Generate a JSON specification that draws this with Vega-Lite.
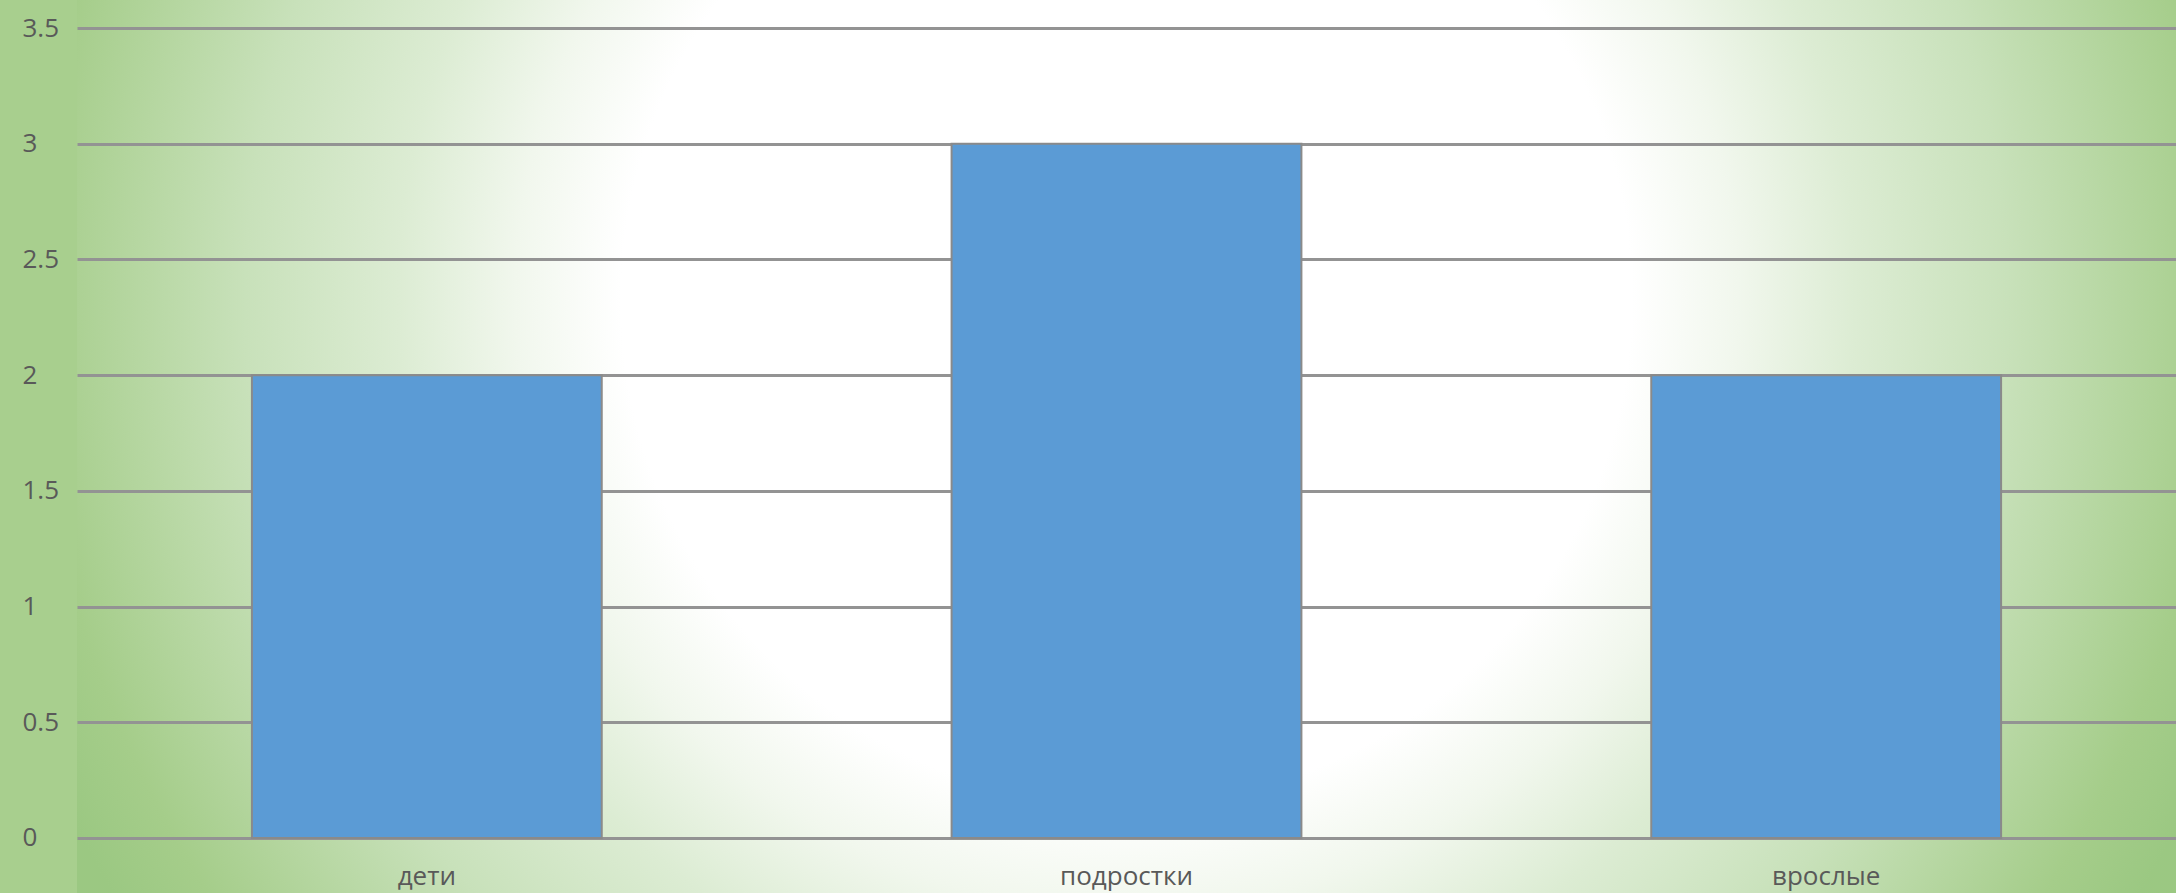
{
  "$schema": "https://vega.github.io/schema/vega-lite/v6.json",
  "width": 2099,
  "height": 893,
  "autosize": {"type": "none"},
  "padding": {"left": 77, "top": 0, "right": 0, "bottom": 0},
  "background": "#a8cf8e",
  "view": {
    "stroke": null,
    "fill": {
      "gradient": "radial",
      "x1": 0.5, "y1": 0.43, "r1": 0,
      "x2": 0.5, "y2": 0.43, "r2": 0.56,
      "stops": [
        {"offset": 0, "color": "#ffffff"},
        {"offset": 0.43, "color": "#ffffff"},
        {"offset": 0.52, "color": "#f1f7ed"},
        {"offset": 0.62, "color": "#dcecd3"},
        {"offset": 0.75, "color": "#c8e1ba"},
        {"offset": 0.93, "color": "#a5cd8a"},
        {"offset": 1, "color": "#9bc882"}
      ]
    }
  },
  "data": {
    "values": [
      {"group": "дети", "value": 2},
      {"group": "подростки", "value": 3},
      {"group": "врослые", "value": 2}
    ]
  },
  "mark": {"type": "bar", "fill": "#5b9bd5", "stroke": "#8a8a8a", "strokeWidth": 2},
  "encoding": {
    "x": {
      "field": "group",
      "type": "nominal",
      "sort": null,
      "scale": {"paddingInner": 0.5, "paddingOuter": 0.25},
      "axis": {
        "title": null,
        "orient": "bottom",
        "offset": -55,
        "domain": false,
        "ticks": false,
        "tickSize": 0,
        "grid": false,
        "labelAngle": 0,
        "labelPadding": 25,
        "labelFont": "Open Sans",
        "labelFontSize": 26,
        "labelColor": "#595959"
      }
    },
    "y": {
      "field": "value",
      "type": "quantitative",
      "scale": {"domain": [-0.2377, 3.621], "nice": false, "zero": false},
      "axis": {
        "title": null,
        "values": [0, 0.5, 1, 1.5, 2, 2.5, 3, 3.5],
        "format": ".1~f",
        "domain": false,
        "ticks": false,
        "tickSize": 0,
        "labelAlign": "left",
        "labelBaseline": "middle",
        "labelPadding": 55,
        "labelFont": "Open Sans",
        "labelFontSize": 26,
        "labelColor": "#595959",
        "grid": true,
        "gridColor": "#939393",
        "gridWidth": 3,
        "gridOpacity": 1
      }
    },
    "y2": {"datum": 0}
  }
}
